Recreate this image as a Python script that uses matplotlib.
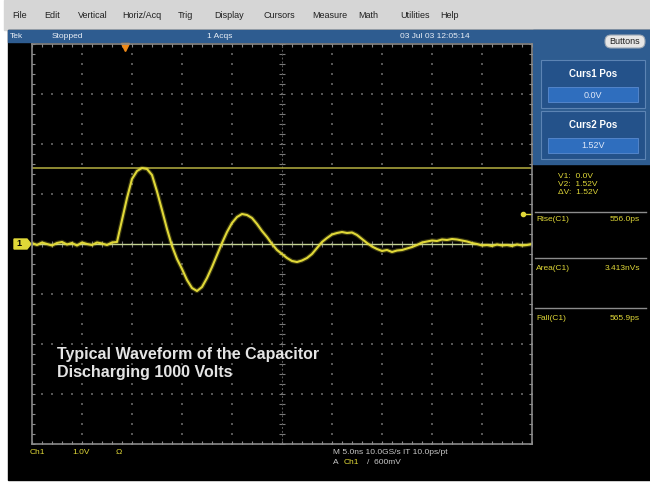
import numpy as np
import matplotlib.pyplot as plt
from matplotlib.patches import Rectangle, FancyBboxPatch, Polygon

# Ch1 acquisition: 1 V/div, 5 ns/div, one sample every 0.5 ns
time_ns = np.arange(-25.0, 25.01, 0.5)
volts = [
    0.02, -0.02, 0.03, 0.00, -0.03, 0.02, 0.04, -0.01, 0.02, -0.03,
    0.03, 0.00, -0.02, 0.03, 0.01, -0.02, 0.03, 0.04, 0.48, 0.92,
    1.30, 1.46, 1.52, 1.50, 1.38, 1.05, 0.68, 0.30, -0.04, -0.30,
    -0.50, -0.72, -0.88, -0.94, -0.86, -0.68, -0.46, -0.22, 0.02, 0.24,
    0.42, 0.54, 0.60, 0.58, 0.52, 0.40, 0.26, 0.14, 0.00, -0.12,
    -0.20, -0.28, -0.34, -0.36, -0.33, -0.28, -0.20, -0.08, 0.04, 0.12,
    0.19, 0.22, 0.24, 0.22, 0.23, 0.18, 0.10, 0.02, -0.05, -0.10,
    -0.14, -0.12, -0.16, -0.13, -0.12, -0.09, -0.06, -0.02, 0.03, 0.05,
    0.07, 0.06, 0.09, 0.08, 0.10, 0.09, 0.07, 0.05, 0.02, 0.00,
    -0.03, -0.02, -0.04, -0.01, -0.03, -0.02, -0.04, -0.01, -0.03, -0.02,
    0.00,
]
cursor_levels = [0.0, 1.52]
trigger_level = 0.6
trigger_time = -15.7

menu_items = ["File", "Edit", "Vertical", "Horiz/Acq", "Trig", "Display",
              "Cursors", "Measure", "Math", "Utilities", "Help"]
status_items = ["Tek", "Stopped", "1 Acqs", "03 Jul 03 12:05:14"]
cursor_readout = ["V1:  0.0V", "V2:  1.52V", "\u0394V:  1.52V"]
meas_names = ["Rise(C1)", "Area(C1)", "Fall(C1)"]
meas_values = ["556.0ps", "3.413nVs", "565.9ps"]

W, H = 650, 483
YEL = "#e0d838"
GRID = "#555555"

fig = plt.figure(figsize=(W / 100, H / 100), dpi=100)
fig.patch.set_facecolor("white")


def px(x, y):
    return x / W, 1 - y / H


def label(x, y, s, **kw):
    fx, fy = px(x, y)
    kw.setdefault("va", "center")
    kw.setdefault("family", "Liberation Sans")
    fig.text(fx, fy, s, **kw)


# screen chrome in pixel coordinates
ui = fig.add_axes([0, 0, 1, 1])
ui.set_xlim(0, W)
ui.set_ylim(H, 0)
ui.axis("off")
ui.add_patch(Rectangle((4, 0), W - 4, 30, color="#d6d6d6"))
ui.add_patch(Rectangle((8, 30), W - 8, 450, color="black"))
ui.add_patch(Rectangle((8, 30), W - 8, 12, color="#2e5c90"))
ui.add_patch(Rectangle((533, 30), W - 533, 134, color="#2e5c90"))
ui.add_patch(FancyBboxPatch((605, 35), 40, 13, boxstyle="round,pad=0,rounding_size=6",
                            fc="#e6e6e6", ec="#9aa6b4", lw=0.8))
for top in (60, 111):
    ui.add_patch(Rectangle((541, top), 104, 48, fc="#24528a", ec="#5c84b4", lw=0.8))
    ui.add_patch(Rectangle((548, top + 27), 90, 15, fc="#2f6ebe", ec="#5a8ad0", lw=0.6))
for y in (212, 258, 308):
    ui.plot([535, 646], [y, y], color="#8c8c8c", lw=1)

# graticule
scope = fig.add_axes([32 / W, (H - 444) / H, 500 / W, 400 / H])
scope.set_facecolor("black")
scope.set_xlim(-25, 25)
scope.set_ylim(-4, 4)
scope.set_xticks([])
scope.set_yticks([])
for sp in scope.spines.values():
    sp.set_color("#8a8a8a")
    sp.set_linewidth(1.2)

xs = np.arange(-25, 25.01, 1.0)
ys = np.arange(-4, 4.01, 0.2)
for gx in range(-20, 25, 5):
    if gx != 0:
        scope.scatter(np.full(ys.size, gx), ys, s=1.2, marker="s", color=GRID, lw=0)
for gy in range(-3, 4):
    if gy != 0:
        scope.scatter(xs, np.full(xs.size, gy), s=1.2, marker="s", color=GRID, lw=0)
scope.scatter(np.zeros(ys.size), ys, s=14, marker="_", color="#7a7a7a", lw=0.8)
scope.scatter(xs, np.zeros(xs.size), s=14, marker="|", color="#7a7a7a", lw=0.8)
scope.axvline(0, color="#5a5a5a", lw=0.7, ls=(0, (2, 2)))
for ex in (-25, 25):
    scope.scatter(np.full(ys.size, ex), ys, s=14, marker="_", color="#8a8a8a", lw=0.8)
for ey in (-4, 4):
    scope.scatter(xs, np.full(xs.size, ey), s=14, marker="|", color="#8a8a8a", lw=0.8)

# cursors and trace
scope.axhline(cursor_levels[1], color="#a8a23c", lw=1.2)
scope.axhline(cursor_levels[0], color="#c4d292", lw=1.0)
scope.plot(time_ns, volts, color=YEL, lw=3.2, alpha=0.25, solid_joinstyle="round")
scope.plot(time_ns, volts, color=YEL, lw=1.5, solid_joinstyle="round")

# trigger level marker on the right edge
scope.plot([24.1, 24.9], [trigger_level, trigger_level], color=YEL, lw=1)
scope.plot([24.1], [trigger_level], "o", color=YEL, ms=3)
scope.plot([trigger_time], [3.93], marker="v", color="#f08a18", ms=6, clip_on=False)

# channel 1 ground marker
ui.add_patch(Polygon([[14, 239], [27, 239], [31, 244], [27, 249], [14, 249]],
                     closed=True, color=YEL))
label(19, 244, "1", color="black", fontsize=6.5, ha="center", weight="bold")

# menu and status bar
for name, x in zip(menu_items, [12, 44, 78, 122, 178, 214, 264, 312, 358, 400, 440]):
    label(x, 15, name, color="#202020", fontsize=6.5)
for s, x in zip(status_items, [10, 52, 207, 400]):
    label(x, 36, s, color="#e8eef6", fontsize=6)
label(625, 42, "Buttons", color="#202020", fontsize=6.5, ha="center")

# cursor panel
label(593, 74, "Curs1 Pos", color="white", fontsize=7, ha="center", weight="bold")
label(593, 95, "0.0V", color="#dfe8f8", fontsize=6.5, ha="center")
label(593, 125, "Curs2 Pos", color="white", fontsize=7, ha="center", weight="bold")
label(593, 146, "1.52V", color="#dfe8f8", fontsize=6.5, ha="center")
for i, s in enumerate(cursor_readout):
    label(558, 176 + 8 * i, s, color=YEL, fontsize=6)
for i, (n, v) in enumerate(zip(meas_names, meas_values)):
    y = 219 + 49.5 * i
    label(536, y, n, color=YEL, fontsize=6)
    label(640, y, v, color=YEL, fontsize=6, ha="right")

# bottom readouts
label(30, 452, "Ch1", color=YEL, fontsize=6)
label(72, 452, "1.0V", color=YEL, fontsize=6)
label(116, 452, "\u03a9", color=YEL, fontsize=6)
label(333, 452, "M 5.0ns 10.0GS/s IT 10.0ps/pt", color="#c8c8c8", fontsize=6)
label(333, 463, "A", color="#c8c8c8", fontsize=6)
label(344, 463, "Ch1", color=YEL, fontsize=6)
label(367, 463, "/  600mV", color="#c8c8c8", fontsize=6)

label(57, 363, "Typical Waveform of the Capacitor\nDischarging 1000 Volts",
      color="#e4e4e4", fontsize=11.5, weight="bold", linespacing=1.25)

fig.savefig("out.png", dpi=100, facecolor=fig.get_facecolor())
